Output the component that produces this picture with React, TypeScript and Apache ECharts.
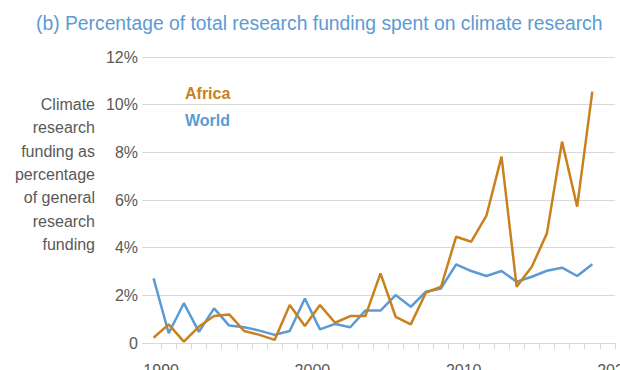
import React, { useEffect, useRef } from "react";
import * as echarts from "echarts";

// Data years (points plotted at mid-year)
const years = [
  1989, 1990, 1991, 1992, 1993, 1994, 1995, 1996, 1997, 1998,
  1999, 2000, 2001, 2002, 2003, 2004, 2005, 2006, 2007, 2008,
  2009, 2010, 2011, 2012, 2013, 2014, 2015, 2016, 2017, 2018,
];
const africa = [
  0.22, 0.78, 0.06, 0.69, 1.13, 1.2, 0.5, 0.34, 0.13, 1.59,
  0.71, 1.59, 0.85, 1.13, 1.13, 2.92, 1.1, 0.78, 2.11, 2.36,
  4.46, 4.25, 5.34, 7.82, 2.36, 3.2, 4.6, 8.45, 5.72, 10.55,
];
const world = [
  2.71, 0.41, 1.67, 0.47, 1.45, 0.73, 0.66, 0.52, 0.34, 0.5,
  1.87, 0.57, 0.8, 0.66, 1.36, 1.36, 2.01, 1.52, 2.15, 2.29,
  3.3, 3.02, 2.81, 3.02, 2.57, 2.78, 3.03, 3.16, 2.81, 3.3,
];
const xLabelYears = [1990, 2000, 2010, 2020];
const yTicks = [0, 2, 4, 6, 8, 10, 12];

const titleText = "(b) Percentage of total research funding spent on climate research";
const yNameLines = ["Climate", "research", "funding as", "percentage", "of general", "research", "funding"];

const ORANGE = "#C8811E";
const BLUE = "#5B9BD5";
const GRAY = "#595959";
const LIGHT = "#D9D9D9";

export default function App() {
  const ref = useRef<HTMLDivElement>(null);
  useEffect(() => {
    document.body.style.margin = "0";
    const chart = echarts.init(ref.current!, undefined, { renderer: "svg" });
    const toPts = (vals: number[]) => years.map((y, i) => [y + 0.5, vals[i]]);
    chart.setOption({
      animation: false,
      backgroundColor: "#ffffff",
      textStyle: { fontFamily: "Liberation Sans, Arial, sans-serif" },
      legend: {
        orient: "vertical",
        left: 175,
        top: 80,
        icon: "none",
        itemWidth: 0,
        itemGap: 11,
        data: [
          { name: "Africa", textStyle: { color: ORANGE } },
          { name: "World", textStyle: { color: BLUE } },
        ],
        textStyle: { fontSize: 16, fontWeight: "bold", fontFamily: "Liberation Sans, Arial, sans-serif" },
      },
      graphic: [
        {
          type: "text",
          x: 36,
          y: 23,
          scaleX: 0.92,
          style: {
            text: titleText,
            align: "left",
            verticalAlign: "middle",
            fill: BLUE,
            fontSize: 21,
            fontFamily: "Liberation Sans, Arial, sans-serif",
          },
        },
        {
          type: "text",
          x: 95,
          y: 93,
          style: {
            text: yNameLines.join("\n"),
            align: "right",
            verticalAlign: "top",
            fill: GRAY,
            fontSize: 16,
            lineHeight: 23.3,
            fontFamily: "Liberation Sans, Arial, sans-serif",
          },
        },
      ],
      grid: {
        left: 146,
        right: 5,
        top: 57,
        bottom: 27,
        containLabel: false,
        outerBoundsMode: "none",
      },
      xAxis: {
        type: "value",
        min: 1989,
        max: 2020,
        interval: 1,
        axisLine: { show: true, lineStyle: { color: LIGHT, width: 1 } },
        axisTick: { show: true, length: 6, lineStyle: { color: LIGHT } },
        splitLine: { show: false },
        axisLabel: {
          color: GRAY,
          fontSize: 16,
          margin: 19,
          showMinLabel: false,
          hideOverlap: false,
          formatter: (v: number) => (xLabelYears.includes(v) ? String(v) : ""),
        },
      },
      yAxis: {
        type: "value",
        min: yTicks[0],
        max: yTicks[yTicks.length - 1],
        interval: 2,
        axisLine: { show: false },
        axisTick: { show: true, length: 4, lineStyle: { color: LIGHT } },
        splitLine: { show: true, lineStyle: { color: LIGHT, width: 1 } },
        axisLabel: {
          color: GRAY,
          fontSize: 16,
          margin: 8,
          formatter: (v: number) => (v === 0 ? "0" : v + "%"),
        },
      },
      series: [
        {
          name: "World",
          type: "line",
          data: toPts(world),
          showSymbol: false,
          symbol: "none",
          lineStyle: { color: BLUE, width: 2.5 },
          itemStyle: { color: BLUE },
        },
        {
          name: "Africa",
          type: "line",
          data: toPts(africa),
          showSymbol: false,
          symbol: "none",
          lineStyle: { color: ORANGE, width: 2.5 },
          itemStyle: { color: ORANGE },
        },
      ],
    });
    return () => chart.dispose();
  }, []);
  return (
    <div
      ref={ref}
      style={{ position: "fixed", left: 0, top: 0, width: 620, height: 370 }}
    />
  );
}
